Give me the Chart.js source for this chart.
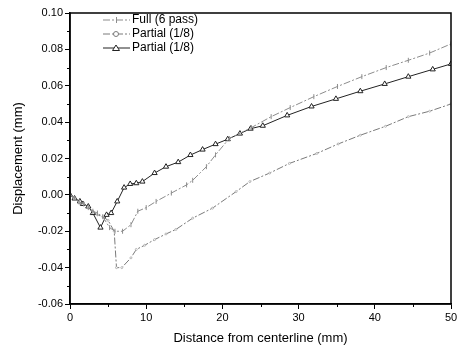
<!DOCTYPE html>
<html>
<head>
<meta charset="utf-8">
<script src="https://cdn.jsdelivr.net/npm/chart.js@4.4.1/dist/chart.umd.min.js"></script>
<style>
  html, body { margin: 0; padding: 0; background: #fff; }
  #wrap { width: 457px; height: 350px; }
</style>
</head>
<body>
<div id="wrap"><canvas id="chart" width="457" height="350"></canvas></div>
<script>
// series
const seriesLabels = ["Full (6 pass)", "Partial (1/8)", "Partial (1/8)"];

const xFull = [0, 0.6, 1.2, 1.8, 2.4, 3.0, 3.6, 4.3, 5.2, 5.9, 6.9, 8.0, 8.9, 10.0, 11.3, 13.3, 15.3, 16.1, 17.9, 19.1, 20.9, 23.8, 26.4, 28.9, 32.0, 35.1, 38.3, 41.5, 44.4, 47.2, 50];
const yFull = [0, -0.002, -0.004, -0.005, -0.007, -0.009, -0.010, -0.012, -0.018, -0.020, -0.020, -0.0164, -0.009, -0.007, -0.0036, 0.001, 0.0055, 0.008, 0.0155, 0.022, 0.031, 0.037, 0.043, 0.048, 0.054, 0.0596, 0.065, 0.070, 0.074, 0.078, 0.083];

const xCirc = [0, 0.6, 1.2, 1.8, 2.4, 3.0, 3.6, 4.3, 5.0, 5.8, 6.1, 6.8, 8.0, 8.7, 9.8, 11.1, 12.6, 13.9, 16.1, 18.7, 21.8, 23.6, 26.2, 28.8, 32.4, 35.2, 38.1, 41.4, 44.4, 47.2, 50];
const yCirc = [0, -0.002, -0.004, -0.005, -0.007, -0.009, -0.011, -0.012, -0.014, -0.020, -0.040, -0.040, -0.0346, -0.030, -0.0277, -0.0246, -0.0215, -0.019, -0.0128, -0.0073, 0.0018, 0.0073, 0.012, 0.0173, 0.0228, 0.028, 0.0328, 0.0377, 0.043, 0.046, 0.050];

const xTri = [0, 0.6, 1.3, 1.7, 2.4, 3.0, 4.0, 4.8, 5.4, 6.2, 7.1, 7.9, 8.7, 9.5, 11.1, 12.6, 14.2, 15.8, 17.4, 19.1, 20.7, 22.3, 23.7, 25.3, 28.5, 31.7, 34.9, 38.1, 41.3, 44.4, 47.6, 50];
const yTri = [0, -0.002, -0.0036, -0.005, -0.0064, -0.010, -0.018, -0.011, -0.010, -0.0036, 0.004, 0.006, 0.0064, 0.0073, 0.012, 0.0155, 0.018, 0.0219, 0.0249, 0.0279, 0.0306, 0.0337, 0.0364, 0.038, 0.0437, 0.0486, 0.0528, 0.057, 0.061, 0.065, 0.069, 0.072];

const xMajorTicks = [0, 10, 20, 30, 40, 50];
const yMajorTicks = [-0.06, -0.04, -0.02, 0.00, 0.02, 0.04, 0.06, 0.08, 0.10];

const toPoints = (xs, ys) => xs.map((x, i) => ({ x: x, y: ys[i] }));

const FONT = "'Liberation Sans', Arial, sans-serif";

// minor ticks, frame and the legend inside the plot
const decor = {
  id: "decor",
  afterDraw(chart) {
    const ctx = chart.ctx;
    const a = chart.chartArea;
    const xs = chart.scales.x, ys = chart.scales.y;
    ctx.save();
    ctx.strokeStyle = "#000";
    ctx.lineWidth = 1;
    ctx.beginPath();
    for (let v = 5; v < 50; v += 10) {
      const px = Math.round(xs.getPixelForValue(v)) + 0.5;
      ctx.moveTo(px, a.bottom);
      ctx.lineTo(px, a.bottom + 3);
    }
    for (let k = -5; k < 10; k += 2) {
      const py = Math.round(ys.getPixelForValue(k / 100)) + 0.5;
      ctx.moveTo(a.left, py);
      ctx.lineTo(a.left - 3, py);
    }
    ctx.stroke();

    ctx.lineWidth = 1.5;
    ctx.strokeRect(a.left, a.top, a.right - a.left, a.bottom - a.top);

    // legend
    ctx.font = "12px " + FONT;
    ctx.textBaseline = "middle";
    chart.data.datasets.forEach((ds, i) => {
      const y = 20 + i * 14;
      ctx.strokeStyle = ds.borderColor;
      ctx.lineWidth = 1;
      ctx.setLineDash(ds.borderDash || []);
      ctx.beginPath();
      ctx.moveTo(103, y);
      ctx.lineTo(130, y);
      ctx.stroke();
      ctx.setLineDash([]);
      ctx.fillStyle = "#fff";
      ctx.beginPath();
      if (ds.pointStyle === "triangle") {
        ctx.moveTo(116, y - 3);
        ctx.lineTo(119.5, y + 2.5);
        ctx.lineTo(112.5, y + 2.5);
        ctx.closePath();
        ctx.fill();
        ctx.stroke();
      } else if (ds.pointStyle === "circle") {
        ctx.arc(116, y, 2.5, 0, Math.PI * 2);
        ctx.fill();
        ctx.stroke();
      } else {
        ctx.moveTo(116.5, y - 3);
        ctx.lineTo(116.5, y + 3);
        ctx.stroke();
      }
      ctx.fillStyle = "#000";
      ctx.fillText(ds.label, 132, y);
    });
    ctx.restore();
  }
};

new Chart(document.getElementById("chart"), {
  type: "line",
  data: {
    datasets: [
      {
        label: seriesLabels[0],
        data: toPoints(xFull, yFull),
        borderColor: "#8c8c8c",
        borderWidth: 1,
        borderDash: [7, 2, 2, 2],
        pointStyle: "line",
        rotation: 90,
        pointRadius: 2.5,
        pointBorderColor: "#8c8c8c",
        pointBorderWidth: 1,
        tension: 0
      },
      {
        label: seriesLabels[1],
        data: toPoints(xCirc, yCirc),
        borderColor: "#7a7a7a",
        borderWidth: 1,
        borderDash: [7, 2, 2, 2],
        pointStyle: "circle",
        pointRadius: 1,
        pointBackgroundColor: "#fff",
        pointBorderColor: "#aaa",
        pointBorderWidth: 0.8,
        tension: 0
      },
      {
        label: seriesLabels[2],
        data: toPoints(xTri, yTri),
        borderColor: "#222",
        borderWidth: 1,
        pointStyle: "triangle",
        pointRadius: 3,
        pointBackgroundColor: "#fff",
        pointBorderColor: "#222",
        pointBorderWidth: 1,
        tension: 0
      }
    ]
  },
  options: {
    responsive: false,
    animation: false,
    layout: { padding: { top: 13, right: 0, left: 7, bottom: 0 } },
    plugins: { legend: { display: false }, tooltip: { enabled: false } },
    scales: {
      x: {
        type: "linear",
        min: 0,
        max: 50,
        afterBuildTicks: (s) => { s.ticks = xMajorTicks.map(v => ({ value: v })); },
        afterFit: (s) => { s.height = 46; s.paddingRight = 6; },
        border: { display: true, color: "#000", width: 1.5 },
        grid: { drawOnChartArea: false, tickLength: 5, color: "#000" },
        ticks: { color: "#000", font: { family: FONT, size: 11 }, padding: 2, maxRotation: 0 },
        title: { display: true, text: "Distance from centerline (mm)", color: "#000", font: { family: FONT, size: 13 }, padding: { top: 2 } }
      },
      y: {
        type: "linear",
        min: -0.06,
        max: 0.10,
        afterBuildTicks: (s) => { s.ticks = yMajorTicks.map(v => ({ value: v })); },
        afterFit: (s) => { s.width = 63; },
        border: { display: true, color: "#000", width: 1.5 },
        grid: { drawOnChartArea: false, tickLength: 5, color: "#000" },
        ticks: { color: "#000", font: { family: FONT, size: 11 }, padding: 2, callback: (v) => v.toFixed(2) },
        title: { display: true, text: "Displacement (mm)", color: "#000", font: { family: FONT, size: 13 }, padding: { bottom: 4 } }
      }
    }
  },
  plugins: [decor]
});
</script>
</body>
</html>
